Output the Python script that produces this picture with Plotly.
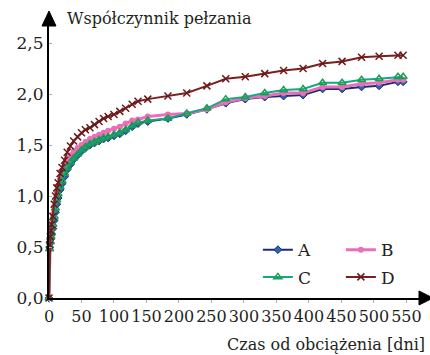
import plotly.graph_objects as go

days = [0, 1, 2, 3, 4, 6, 8, 10, 12, 14, 17, 20, 24, 28, 33, 38, 44, 50, 56, 63, 70, 77, 84, 91,
        100, 109, 118, 128, 137, 152, 183, 212, 243, 272, 302, 332, 361, 391, 421, 451, 481, 508, 537, 545]

series_A = [0.0, 0.50, 0.54, 0.58, 0.62, 0.68, 0.76, 0.84, 0.92, 0.98, 1.06, 1.12, 1.19, 1.26, 1.31, 1.36,
            1.40, 1.44, 1.47, 1.50, 1.52, 1.54, 1.56, 1.57, 1.59, 1.61, 1.64, 1.68, 1.71, 1.73, 1.76, 1.80,
            1.85, 1.91, 1.95, 1.97, 1.98, 1.99, 2.05, 2.05, 2.07, 2.08, 2.12, 2.12]
series_B = [0.0, 0.55, 0.62, 0.68, 0.72, 0.82, 0.90, 0.97, 1.04, 1.10, 1.17, 1.24, 1.30, 1.35, 1.40, 1.44,
            1.47, 1.50, 1.53, 1.56, 1.58, 1.60, 1.62, 1.64, 1.66, 1.68, 1.71, 1.74, 1.75, 1.78, 1.80, 1.81,
            1.85, 1.92, 1.96, 1.98, 2.01, 2.01, 2.07, 2.07, 2.10, 2.11, 2.14, 2.14]
series_C = [0.0, 0.48, 0.55, 0.60, 0.64, 0.72, 0.80, 0.88, 0.96, 1.02, 1.09, 1.15, 1.22, 1.28, 1.33, 1.37,
            1.41, 1.45, 1.48, 1.51, 1.53, 1.55, 1.57, 1.58, 1.60, 1.62, 1.65, 1.69, 1.72, 1.74, 1.76, 1.81,
            1.86, 1.95, 1.97, 2.01, 2.04, 2.05, 2.11, 2.11, 2.14, 2.15, 2.17, 2.17]
series_D = [0.0, 0.52, 0.60, 0.66, 0.72, 0.80, 0.92, 1.00, 1.08, 1.13, 1.22, 1.28, 1.35, 1.43, 1.49, 1.54,
            1.58, 1.62, 1.65, 1.67, 1.70, 1.73, 1.76, 1.78, 1.80, 1.83, 1.86, 1.90, 1.93, 1.95, 1.98, 2.01,
            2.08, 2.15, 2.17, 2.20, 2.23, 2.25, 2.30, 2.32, 2.36, 2.37, 2.38, 2.38]

names = ["A", "B", "C", "D"]
x_ticks = [0, 50, 100, 150, 200, 250, 300, 350, 400, 450, 500, 550]
y_ticks = [0.0, 0.5, 1.0, 1.5, 2.0, 2.5]
y_labels = ["0,0", "0,5", "1,0", "1,5", "2,0", "2,5"]
y_title = "Współczynnik pełzania"
x_title = "Czas od obciążenia [dni]"

FONT = "DejaVu Serif"
FS = 16
TXT = "#231f20"
styles = {
    "A": dict(line=dict(color="#1c2c6e", width=2), marker=dict(symbol="diamond", size=6, color="#2f64b0", line=dict(color="#1c2c6e", width=1))),
    "B": dict(line=dict(color="#ea6fb8", width=3), marker=dict(symbol="circle", size=6, color="#ea6fb8")),
    "C": dict(line=dict(color="#13a884", width=2), marker=dict(symbol="triangle-up-open", size=7, color="#1a9e50", line=dict(width=1.5))),
    "D": dict(line=dict(color="#7a1f1f", width=2), marker=dict(symbol="x-thin-open", size=7, color="#6b1a1a", line=dict(color="#6b1a1a", width=1.5))),
}
legends = {"A": "legend", "B": "legend", "C": "legend2", "D": "legend2"}

fig = go.Figure()
for nm, vals in zip(names, [series_A, series_B, series_C, series_D]):
    fig.add_trace(go.Scatter(x=days, y=vals, mode="lines+markers", name=nm,
                             legend=legends[nm], cliponaxis=False, **styles[nm]))

W, H = 430, 355
L, R, T, B = 49, 8, 26, 57
leg_common = dict(orientation="h", x=0.56, xanchor="left", yanchor="middle",
                  entrywidth=38, entrywidthmode="pixels", bgcolor="rgba(0,0,0,0)",
                  font=dict(family=FONT, size=FS + 1, color=TXT), itemwidth=30)
fig.update_layout(
    width=W, height=H, margin=dict(l=L, r=R, t=T, b=B, autoexpand=False),
    paper_bgcolor="white", plot_bgcolor="white",
    font=dict(family=FONT, size=FS, color=TXT),
    xaxis=dict(range=[0, 574], tickvals=x_ticks, ticktext=[str(v) for v in x_ticks], tickangle=0,
               showgrid=False, zeroline=False, showline=True, linecolor="black", linewidth=2,
               ticks="outside", ticklen=3, tickcolor="#8db6d6", tickfont=dict(family=FONT, size=FS)),
    yaxis=dict(range=[0, 2.667], tickvals=y_ticks, ticktext=y_labels,
               showgrid=False, zeroline=False, showline=True, linecolor="black", linewidth=2,
               ticks="inside", ticklen=3, tickcolor="#8db6d6", tickfont=dict(family=FONT, size=FS + 1)),
    legend=dict(y=0.176, **leg_common),
    legend2=dict(y=0.076, **leg_common),
    showlegend=True,
)

pw = W - L - R
ph = H - T - B
def px2x(p):
    return (p - L) / pw
def px2y(p):
    return (H - B - p) / ph

# arrowheads
fig.add_shape(type="path", xref="paper", yref="paper",
              path=f"M {px2x(42)} {px2y(26)} L {px2x(56)} {px2y(26)} L {px2x(49)} {px2y(11)} Z",
              fillcolor="black", line=dict(color="black", width=1))
fig.add_shape(type="path", xref="paper", yref="paper",
              path=f"M {px2x(419)} {px2y(291)} L {px2x(419)} {px2y(305)} L {px2x(433)} {px2y(298)} Z",
              fillcolor="black", line=dict(color="black", width=1))

fig.add_annotation(text=y_title, xref="paper", yref="paper", x=px2x(65), y=px2y(18),
                   xanchor="left", yanchor="middle", showarrow=False,
                   font=dict(family=FONT, size=FS, color=TXT))
fig.add_annotation(text=x_title, xref="paper", yref="paper", x=px2x(427), y=px2y(344),
                   xanchor="right", yanchor="middle", showarrow=False,
                   font=dict(family=FONT, size=FS, color=TXT))

fig.write_html("out.html")
